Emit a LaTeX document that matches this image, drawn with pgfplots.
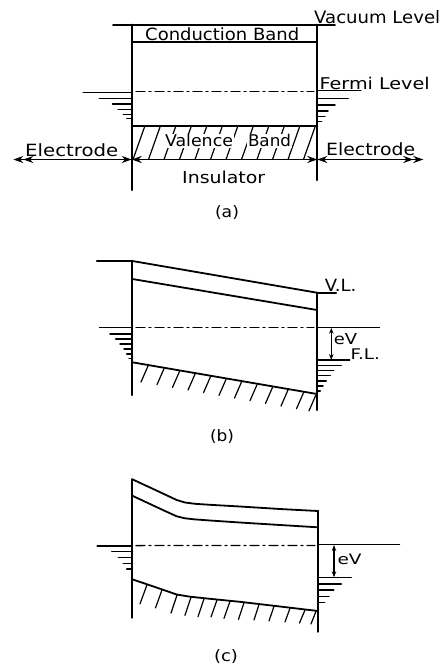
\documentclass[border=0pt]{standalone}
\usepackage{fontspec}
\setmainfont{DejaVu Sans}
\usepackage{graphicx}
\usepackage{pgfplots}
\pgfplotsset{compat=1.18}
\usetikzlibrary{arrows.meta}
\newcommand\lab[3]{\resizebox{#1pt}{#2pt}{#3}}
\begin{document}
\begin{tikzpicture}
\pgfplotsset{
  wall/.style={line width=2.2pt},
  band/.style={line width=1.8pt},
  gnd/.style={line width=1.5pt},
  thinl/.style={line width=1.1pt},
  dd/.style={line width=1.3pt, dash pattern=on 9pt off 4pt on 2pt off 4pt},
  hatch/.style={line width=1.2pt},
}
\begin{axis}[width=443pt,height=667pt,scale only axis,
  xmin=0,xmax=443,ymin=0,ymax=667,y dir=reverse,
  hide axis,clip=false,unbounded coords=jump,
  every axis plot/.append style={black,line cap=round,line join=round}]
\addplot[draw=none] coordinates {(0,0) (443,667)};
% ---------------- panel (a) ----------------
\addplot[band] coordinates {(113,24.7) (335,24.7)};
\addplot[wall] coordinates {(131.7,24.7) (131.7,190) (nan,nan) (317.3,24.7) (317.3,180)};
\addplot[band] coordinates {(131.7,41.7) (317.3,41.7) (nan,nan) (131.7,125.6) (317.3,125.6)};
\addplot[dd] coordinates {(136,91.2) (314,91.2)};
\addplot[thinl] coordinates {(318,90.7) (361,90.7)};
\addplot[band] coordinates {(83.3,92.4) (131.7,92.4)};
\addplot[gnd] coordinates {(99.3,98.3) (131.7,98.3) (nan,nan) (112.5,104) (131.7,104) (nan,nan)
  (118,109.3) (131.7,109.3) (nan,nan) (123.3,114.3) (131.7,114.3) (nan,nan) (126.7,118.5) (131.7,118.5)};
\addplot[gnd] coordinates {(317.3,98.3) (348.3,98.3) (nan,nan) (317.3,105) (335,105) (nan,nan)
  (317.3,111) (328,111) (nan,nan) (317.3,116.7) (325,116.7) (nan,nan) (317.3,121.7) (321.7,121.7)};
\addplot[hatch] coordinates {
  (133,159.5) (145,125.6) (nan,nan) (148.5,159.5) (160.5,125.6) (nan,nan)
  (164,159.5) (176,125.6) (nan,nan) (179.5,159.5) (191.5,125.6) (nan,nan)
  (195,159.5) (207,125.6) (nan,nan) (210.5,159.5) (222.5,125.6) (nan,nan)
  (226,159.5) (238,125.6) (nan,nan) (241.5,159.5) (253.5,125.6) (nan,nan)
  (257,159.5) (269,125.6) (nan,nan) (272.5,159.5) (284.5,125.6) (nan,nan)
  (288,159.5) (300,125.6) (nan,nan) (303.5,159.5) (315.5,125.6)};
\addplot[gnd,arrows={{Stealth[length=10pt,width=7pt] Stealth[length=10pt,width=7pt]}-{Stealth[length=10pt,width=7pt]}}] coordinates {(13.3,159.5) (131.7,159.5)};
\addplot[gnd,arrows={{Stealth[length=10pt,width=7pt]}-{Stealth[length=10pt,width=7pt]}}] coordinates {(131.7,159.5) (317.3,159.5)};
\addplot[gnd,arrows={{Stealth[length=10pt,width=7pt]}-{Stealth[length=10pt,width=7pt] Stealth[length=10pt,width=7pt]}}] coordinates {(317.3,159.5) (423.3,159.5)};
\node[anchor=base west,inner sep=0pt] at (axis cs:314,23.3) {\lab{126}{13}{Vacuum Level}};
\node[anchor=base west,inner sep=0pt] at (axis cs:145,40.5) {\lab{154}{12.8}{Conduction Band}};
\node[anchor=base west,inner sep=0pt] at (axis cs:319.5,89.3) {\lab{110}{12.3}{Fermi Level}};
\node[anchor=base west,inner sep=0.8pt,fill=white] at (axis cs:164,146.8) {\lab{68}{12.3}{Valence}};
\node[anchor=base west,inner sep=0.8pt,fill=white] at (axis cs:247,146.8) {\lab{43}{12.3}{Band}};
\node[anchor=base west,inner sep=0pt] at (axis cs:25,156.5) {\lab{93}{12.8}{Electrode}};
\node[anchor=base west,inner sep=0pt] at (axis cs:326,155) {\lab{89}{12.8}{Electrode}};
\node[anchor=base west,inner sep=0pt] at (axis cs:182,183.3) {\lab{83}{12.5}{Insulator}};
\node[anchor=base,inner sep=0pt] at (axis cs:227,217) {\lab{24}{12}{(a)}};
% ---------------- panel (b) ----------------
\addplot[band] coordinates {(96.7,261) (132.3,261) (317,292.7) (nan,nan) (317,293) (336.3,293)};
\addplot[wall] coordinates {(132.3,261) (132.3,395) (nan,nan) (317,292.7) (317,410)};
\addplot[band] coordinates {(132.3,279) (317,310) (nan,nan) (132.3,362.3) (317,394)};
\addplot[dd] coordinates {(136,327.7) (314,327.7)};
\addplot[thinl] coordinates {(99.3,327.7) (132.3,327.7) (nan,nan) (317,327.3) (379.7,327.3) (nan,nan) (317,360) (349.7,360)};
\addplot[gnd] coordinates {(110,334) (132.3,334) (nan,nan) (115.7,339) (132.3,339) (nan,nan)
  (120,344) (132.3,344) (nan,nan) (124,349) (132.3,349) (nan,nan) (126.7,354) (132.3,354) (nan,nan)
  (129,358.3) (132.3,358.3)};
\addplot[gnd] coordinates {(317,365.7) (341.3,365.7) (nan,nan) (317,370.7) (333.7,370.7) (nan,nan)
  (317,375.7) (330.3,375.7) (nan,nan) (317,381) (326.3,381) (nan,nan) (317,386) (323,386) (nan,nan)
  (317,391) (320.3,391)};
\addplot[thinl,arrows={{Stealth[length=6pt,width=4.5pt]}-{Stealth[length=6pt,width=4.5pt]}}] coordinates {(331.3,327.8) (331.3,360)};
\addplot[hatch] coordinates {
  (148,366) (141,382) (nan,nan) (164,368.7) (157,384.7) (nan,nan)
  (179.5,371.4) (172.5,387.4) (nan,nan) (195,374.1) (188,390.1) (nan,nan)
  (210.5,376.7) (203.5,392.7) (nan,nan) (226,379.4) (219,395.4) (nan,nan)
  (241.5,382) (234.5,398) (nan,nan) (257,384.7) (250,400.7) (nan,nan)
  (272.5,387.4) (265.5,403.4) (nan,nan) (288,390) (281,406) (nan,nan)
  (303.5,392.7) (296.5,408.7) (nan,nan) (316,394.8) (309,410.8)};
\node[anchor=base west,inner sep=0pt] at (axis cs:324.7,291.5) {\lab{31.5}{12.3}{V.L.}};
\node[anchor=base west,inner sep=0pt] at (axis cs:333.7,344) {\lab{23.3}{11}{eV}};
\node[anchor=base west,inner sep=0pt] at (axis cs:350.3,359) {\lab{29.4}{10.7}{F.L.}};
\node[anchor=base,inner sep=0pt] at (axis cs:222,441) {\lab{24}{12}{(b)}};
% ---------------- panel (c) ----------------
\addplot[band] coordinates {(132.3,479.3) (150,487.5) (165,494.5) (176.7,500) (185,502.5) (195,503.8)
  (210,504.8) (240,506.5) (280,509) (318,511)};
\addplot[band] coordinates {(132.3,495.7) (150,504) (165,511) (176.7,516.3) (185,518.3) (195,519.4)
  (210,520.5) (240,522.5) (280,525) (318,527.3)};
\addplot[band] coordinates {(132.3,579.3) (155,587) (176.7,594.5) (190,596.7) (210,598.8) (240,601.8)
  (280,606.5) (318,611)};
\addplot[wall] coordinates {(132.3,479.3) (132.3,617.7) (nan,nan) (318,511) (318,631.7)};
\addplot[dd] coordinates {(136,545.6) (315,545.4)};
\addplot[band] coordinates {(97.3,545.7) (132.3,545.7)};
\addplot[thinl] coordinates {(318,544.3) (399.7,544.3)};
\addplot[gnd] coordinates {(318,577.3) (351.3,577.3)};
\addplot[gnd] coordinates {(111.7,551.5) (132.3,551.5) (nan,nan) (118.3,557.5) (132.3,557.5) (nan,nan)
  (123.3,563.5) (132.3,563.5) (nan,nan) (126.7,569) (132.3,569)};
\addplot[gnd] coordinates {(318,584) (341.3,584) (nan,nan) (318,590) (333.7,590) (nan,nan)
  (318,596.7) (329,596.7) (nan,nan) (318,602.7) (324.7,602.7)};
\addplot[thinl,arrows={{Stealth[length=6pt,width=4.5pt]}-{Stealth[length=6pt,width=4.5pt]}}] coordinates {(334,545) (334,577.3)};
\addplot[hatch] coordinates {
  (147,584.8) (140,603.8) (nan,nan) (162,589.9) (155.5,607.9) (nan,nan)
  (177,595.1) (171,613.1) (nan,nan) (191,597.3) (185,615.3) (nan,nan)
  (204,598.7) (198,616.7) (nan,nan) (217,600) (211,617) (nan,nan)
  (230,601.3) (224,618.3) (nan,nan) (244,602.8) (238.5,619.3) (nan,nan)
  (259,604.5) (254,620) (nan,nan) (274,606.3) (269,621) (nan,nan)
  (290,608.2) (285,622) (nan,nan) (305,610) (299.5,623) (nan,nan)
  (316,611.3) (311,624)};
\node[anchor=base west,inner sep=0pt] at (axis cs:337.3,564.3) {\lab{24}{10.5}{eV}};
\node[anchor=base,inner sep=0pt] at (axis cs:226,661) {\lab{24}{12}{(c)}};
\end{axis}
\end{tikzpicture}
\end{document}
